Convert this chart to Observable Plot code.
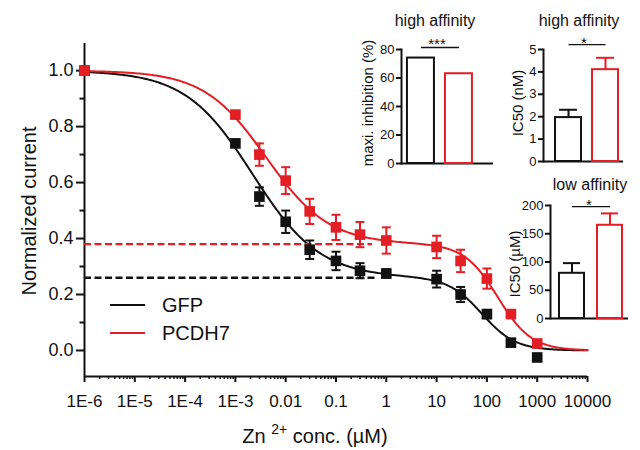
<!DOCTYPE html>
<html><head><meta charset="utf-8">
<script src="https://cdn.jsdelivr.net/npm/d3@7"></script>
<script src="https://cdn.jsdelivr.net/npm/@observablehq/plot@0.6"></script>
<style>
html,body{margin:0;padding:0;background:#fff;}
#wrap{position:relative;width:640px;height:450px;overflow:hidden;font-family:"Liberation Sans",Arial,Helvetica,sans-serif;color:#111;}
#wrap svg{position:absolute;left:0;top:0;overflow:visible;background:transparent;}
.lbl{position:absolute;line-height:1;white-space:nowrap;color:#111;}
</style></head><body><div id="wrap"></div>
<script>
// ---------- data ----------
const conc = [1e-6, 0.001, 0.003, 0.01, 0.03, 0.1, 0.3, 1, 10, 30, 100, 300, 1000]; // µM
const gfpMean  = [1.0, 0.74, 0.55, 0.46, 0.36, 0.32, 0.285, 0.275, 0.255, 0.20, 0.13, 0.028, -0.025];
const gfpSem   = [0, 0.012, 0.033, 0.04, 0.033, 0.033, 0.027, 0.015, 0.03, 0.027, 0.015, 0.01, 0.01];
const pcdhMean = [1.0, 0.843, 0.70, 0.607, 0.497, 0.44, 0.414, 0.393, 0.37, 0.32, 0.257, 0.13, 0.025];
const pcdhSem  = [0, 0.012, 0.04, 0.048, 0.045, 0.045, 0.045, 0.047, 0.04, 0.04, 0.036, 0.012, 0.012];
const groups = ["GFP", "PCDH7"];
const colors = ["#111111", "#e31e24"];
// two-site inhibition fit parameters
const fitHighFraction = [0.74, 0.62];
const fitHighIC50 = [0.0022, 0.0041]; // µM
const fitHighHill = [0.65, 0.7];
const fitLowIC50 = [80, 165];        // µM
const fitLowHill = [1.3, 1.3];
const plateauEnd = [0.67, 0.53];     // µM, extent of dashed plateau line
const xTickValues = [1e-6, 1e-5, 1e-4, 1e-3, 0.01, 0.1, 1, 10, 100, 1000, 10000];
const xTickLabels = ["1E-6", "1E-5", "1E-4", "1E-3", "0.01", "0.1", "1", "10", "100", "1000", "10000"];
const yTickValues = [0, 0.2, 0.4, 0.6, 0.8, 1.0];
const yMinorValues = [0.1, 0.3, 0.5, 0.7, 0.9];
// insets
const maxInhibition = [74, 63];          // %
const ic50HighMean = [1.96, 4.1];        // nM
const ic50HighSem = [0.35, 0.53];
const ic50LowMean = [80, 165];           // µM
const ic50LowSem = [18, 21];

const FONT = '"Liberation Sans", Arial, Helvetica, sans-serif';
const wrap = document.getElementById("wrap");

// ---------- tables ----------
const means = [gfpMean, pcdhMean], sems = [gfpSem, pcdhSem];
const points = groups.flatMap((g, gi) => conc.map((c, i) => ({group: g, conc: c, mean: means[gi][i], sem: sems[gi][i]})));
const curveX = d3.range(0, 401).map(i => Math.pow(10, -6 + 10 * i / 400));
const curves = groups.flatMap((g, gi) => curveX.map(x => ({
  group: g, x,
  y: fitHighFraction[gi] / (1 + Math.pow(x / fitHighIC50[gi], fitHighHill[gi])) +
     (1 - fitHighFraction[gi]) / (1 + Math.pow(x / fitLowIC50[gi], fitLowHill[gi]))
})));
const plateaus = groups.map((g, gi) => ({group: g, y: 1 - fitHighFraction[gi], x1: conc[0], x2: plateauEnd[gi]}));
const xLabelMap = new Map(xTickValues.map((v, i) => [v, xTickLabels[i]]));
const xMinor = xTickValues.slice(0, -1).flatMap(d => d3.range(2, 10).map(k => d * k));
const capSymbol = {draw(ctx, size) { const r = Math.sqrt(size / Math.PI); ctx.moveTo(-r, 0); ctx.lineTo(r, 0); }};
const yMin = -0.093, yMax = 1.097;

const main = Plot.plot({
  width: 640, height: 450,
  marginLeft: 84, marginRight: 53, marginTop: 43, marginBottom: 74,
  style: {background: "transparent", fontFamily: FONT, fontSize: "17px", color: "#111", overflow: "visible"},
  x: {type: "log", domain: [1e-6, 1e4]},
  y: {domain: [yMin, yMax]},
  color: {domain: groups, range: colors},
  marks: [
    Plot.axisY({ticks: yTickValues, tickFormat: d3.format(".1f"), tickSize: 8, tickPadding: 3, strokeWidth: 2, fontSize: 18, label: null}),
    Plot.axisY({ticks: yMinorValues, tickFormat: () => "", tickSize: 4.5, strokeWidth: 2, label: null}),
    Plot.axisX({ticks: xTickValues, tickFormat: d => xLabelMap.get(d), tickSize: 6, tickPadding: 12, strokeWidth: 2, label: null}),
    Plot.axisX({ticks: xMinor, tickFormat: () => "", tickSize: 3, strokeWidth: 1.5, label: null}),
    Plot.ruleX([1e-6], {strokeWidth: 2}),
    Plot.ruleY([yMin], {strokeWidth: 2}),
    Plot.line(curves, {x: "x", y: "y", z: "group", stroke: "group", strokeWidth: 2}),
    Plot.ruleY(plateaus, {y: "y", x1: "x1", x2: "x2", stroke: "group", strokeWidth: 2.4, strokeDasharray: "7,3.5"}),
    Plot.ruleX(points, {x: "conc", y1: d => d.mean - d.sem, y2: d => d.mean + d.sem, stroke: "group", strokeWidth: 2}),
    Plot.dot(points, {x: "conc", y: d => d.mean + d.sem, symbol: capSymbol, r: 4.5, stroke: "group", strokeWidth: 2, fill: "none"}),
    Plot.dot(points, {x: "conc", y: d => d.mean - d.sem, symbol: capSymbol, r: 4.5, stroke: "group", strokeWidth: 2, fill: "none"}),
    Plot.dot(points, {x: "conc", y: "mean", symbol: "square", r: 6, fill: "group"})
  ]
});
wrap.appendChild(main);

function inset(o) {
  const rows = groups.map((g, i) => ({group: g, v: o.values[i], e: o.sems ? o.sems[i] : 0}));
  const marks = [
    Plot.axisY({ticks: o.ticks, tickFormat: d3.format("d"), tickSize: 5, tickPadding: 2, strokeWidth: 2, label: null}),
    Plot.frame({anchor: "left", strokeWidth: 2}),
    Plot.ruleY([0], {strokeWidth: 2}),
    Plot.barY(rows, {x: "group", y: "v", fill: "white", stroke: "group", strokeWidth: 2})
  ];
  if (o.sems) {
    marks.push(
      Plot.ruleX(rows, {x: "group", y1: "v", y2: d => d.v + d.e, stroke: "group", strokeWidth: 2}),
      Plot.tickY(rows, {x: "group", y: d => d.v + d.e, stroke: "group", strokeWidth: 2, insetLeft: 4, insetRight: 4})
    );
  }
  marks.push(Plot.link([{a: groups[0], b: groups[1], y: o.sigY}], {x1: "a", x2: "b", y1: "y", y2: "y", strokeWidth: 1.3}));
  return Plot.plot({
    width: 640, height: 450,
    marginLeft: o.left, marginRight: 640 - o.right, marginTop: o.top, marginBottom: 450 - o.bottom,
    style: {background: "transparent", fontFamily: FONT, fontSize: "13px", color: "#111", overflow: "visible"},
    x: {domain: groups, paddingInner: o.pi, paddingOuter: o.po, align: o.align, round: false, axis: null},
    y: {domain: o.yDomain},
    color: {domain: groups, range: colors},
    marks
  });
}
wrap.appendChild(inset({values: maxInhibition, ticks: [0, 20, 40, 60, 80], yDomain: [0, 80], sigY: 81.4,
  left: 401, right: 493, top: 49, bottom: 163, pi: 0.29, po: 0.355, align: 0.22}));
wrap.appendChild(inset({values: ic50HighMean, sems: ic50HighSem, ticks: [0, 1, 2, 3, 4, 5], yDomain: [0, 5], sigY: 5.22,
  left: 543, right: 623, top: 49, bottom: 161, pi: 0.297, po: 0.23, align: 0.706}));
wrap.appendChild(inset({values: ic50LowMean, sems: ic50LowSem, ticks: [0, 50, 100, 150, 200], yDomain: [0, 200], sigY: 198,
  left: 550, right: 628, top: 205, bottom: 318, pi: 0.342, po: 0.197, align: 0.6}));

// ---------- text ----------
function label(html, x, y, size, rotate) {
  const s = document.createElement("div");
  s.className = "lbl";
  s.innerHTML = html;
  s.style.left = x + "px";
  s.style.top = y + "px";
  s.style.fontSize = size + "px";
  s.style.transform = "translate(-50%,-50%)" + (rotate ? " rotate(-90deg)" : "");
  wrap.appendChild(s);
}
label("Normalized current", 29, 211, 20, true);
label('Zn <span style="font-size:14px;position:relative;top:-9px">2+</span> conc. (µM)', 315, 436, 20);
label("high affinity", 435, 21, 16);
label("high affinity", 579, 21, 16);
label("low affinity", 590, 185, 16);
label("maxi. inhibition (%)", 367, 103, 15, true);
label("IC50 (nM)", 517, 103, 15, true);
label("IC50 (µM)", 514, 264, 15, true);
label("***", 437, 43, 15);
label("*", 584, 42, 15);
label("*", 589, 204, 15);

// legend
groups.forEach((g, i) => {
  const ly = [305, 333][i];
  const line = document.createElement("div");
  line.style.cssText = `position:absolute;left:110px;top:${ly - 1}px;width:35px;height:2px;background:${colors[i]};`;
  wrap.appendChild(line);
  const t = document.createElement("div");
  t.className = "lbl";
  t.textContent = g;
  t.style.cssText += `left:162px;top:${ly - 10}px;font-size:20px;`;
  wrap.appendChild(t);
});
</script></body></html>
